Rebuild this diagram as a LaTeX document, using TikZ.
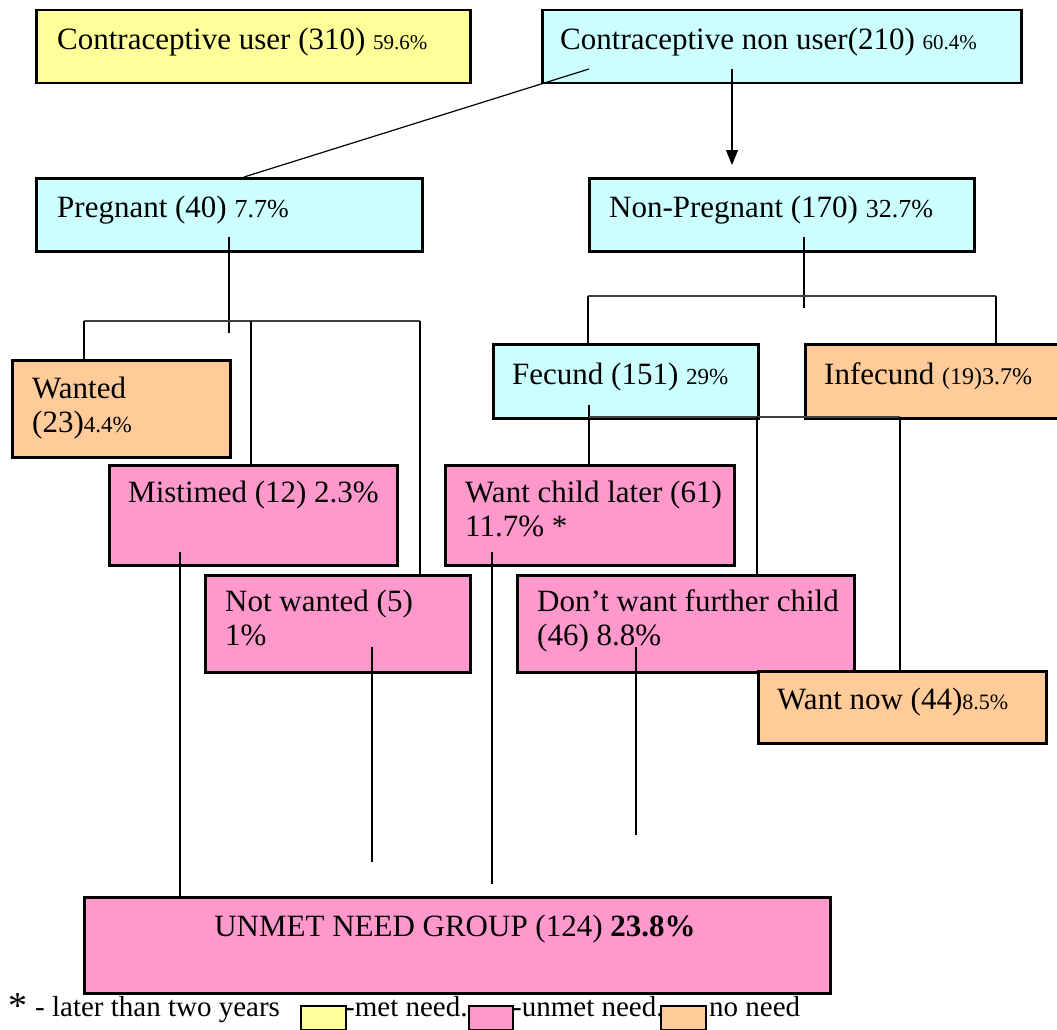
\documentclass[tikz,border=0pt]{standalone}
\usepackage{fontspec}
\setmainfont{Liberation Serif}
\usetikzlibrary{arrows.meta}

\definecolor{metyellow}{HTML}{FFFF99}
\definecolor{usercyan}{HTML}{CCFFFF}
\definecolor{unmetpink}{HTML}{FF99CC}
\definecolor{noneed}{HTML}{FFCC99}

\newcommand{\pct}[2]{{\fontsize{#1}{#1}\selectfont #2}}

\begin{document}
\begin{tikzpicture}[x=1pt, y=-1pt,
    box/.style={draw, line width=2.5pt, anchor=north west, inner sep=0pt},
    txt/.style={anchor=base west, inner sep=0pt, align=left, font=\fontsize{31}{34}\selectfont},
    link/.style={line width=1.2pt},
    bus/.style={line width=1.8pt, black!75}]
    \useasboundingbox (0,0) rectangle (1057,1030);
    \clip (0,0) rectangle (1057,1030);

    % Boxes
    \node (user) at (35,9) [box, fill=metyellow, minimum width=434pt, minimum height=73pt] {};
    \node (nonuser) at (541,9) [box, fill=usercyan, minimum width=479pt, minimum height=73pt] {};
    \node (preg) at (35,177) [box, fill=usercyan, minimum width=386pt, minimum height=73pt] {};
    \node (nonpreg) at (588,177) [box, fill=usercyan, minimum width=385pt, minimum height=73pt] {};
    \node (wanted) at (11,359) [box, fill=noneed, minimum width=218pt, minimum height=97pt] {};
    \node (mistimed) at (108,464) [box, fill=unmetpink, minimum width=288pt, minimum height=100pt] {};
    \node (notwanted) at (204,574) [box, fill=unmetpink, minimum width=265pt, minimum height=97pt] {};
    \node (fecund) at (492,343) [box, fill=usercyan, minimum width=265pt, minimum height=74pt] {};
    \node (infecund) at (804,343) [box, fill=noneed, minimum width=270pt, minimum height=74pt] {};
    \node (later) at (444,464) [box, fill=unmetpink, minimum width=289pt, minimum height=100pt] {};
    \node (nofurther) at (516,574) [box, fill=unmetpink, minimum width=337pt, minimum height=97pt] {};
    \node (wantnow) at (757,670) [box, fill=noneed, minimum width=288pt, minimum height=72pt] {};
    \node (unmet) at (83,896) [box, fill=unmetpink, minimum width=746pt, minimum height=96pt] {};

    % Texts (two-line texts sit on their last baseline)
    \node (user-t) at (57,50) [txt] {Contraceptive user (310) \pct{21}{59.6\%}};
    \node (nonuser-t) at (560,50) [txt] {Contraceptive non user(210) \pct{21}{60.4\%}};
    \node (preg-t) at (57,217) [txt] {Pregnant (40) \pct{26}{7.7\%}};
    \node (nonpreg-t) at (609,217) [txt] {Non-Pregnant (170) \pct{26}{32.7\%}};
    \node (wanted-t) at (32,432) [txt] {Wanted\\(23)\pct{23}{4.4\%}};
    \node (mistimed-t) at (128,502) [txt] {Mistimed (12) 2.3\%};
    \node (notwanted-t) at (225,645) [txt] {Not wanted (5)\\1\%};
    \node (fecund-t) at (512,384) [txt] {Fecund (151) \pct{23}{29\%}};
    \node (infecund-t) at (824,384) [txt] {Infecund \pct{24}{(19)3.7\%}};
    \node (later-t) at (465,536) [txt] {Want child later (61)\\11.7\% *};
    \node (nofurther-t) at (537,645) [txt] {Don’t want further child\\(46) 8.8\%};
    \node (wantnow-t) at (777,709) [txt] {Want now (44)\pct{22}{8.5\%}};
    \node (unmet-t) at (455,936) [txt, anchor=base] {UNMET NEED GROUP (124) \textbf{23.8\%}};

    % Connectors
    \coordinate (nu-a) at (589,69);
    \coordinate (pr-a) at (244,177);
    \coordinate (nu-b) at (732,69);
    \coordinate (np-tip) at (732,165);
    \draw[link] (nu-a) -- (pr-a);
    \draw[link, -{Triangle[width=12pt, length=15pt]}] (nu-b) -- (np-tip);

    \coordinate (pr-s) at (229,237);
    \coordinate (pr-e) at (229,333);
    \coordinate (pb-l) at (84,321);
    \coordinate (pb-m) at (251,321);
    \coordinate (pb-r) at (420,321);
    \draw[link] (pr-s) -- (pr-e);
    \draw[bus] (pb-l) -- (pb-r);
    \draw[link] (pb-l) -- (pb-l |- wanted.north);
    \draw[link] (pb-m) -- (pb-m |- mistimed.north);
    \draw[link] (pb-r) -- (pb-r |- notwanted.north);

    \coordinate (np-s) at (804,237);
    \coordinate (np-e) at (804,308);
    \coordinate (nb-l) at (588,296);
    \coordinate (nb-r) at (996,296);
    \draw[link] (np-s) -- (np-e);
    \draw[bus] (nb-l) -- (nb-r);
    \draw[link] (nb-l) -- (nb-l |- fecund.north);
    \draw[link] (nb-r) -- (nb-r |- infecund.north);

    \coordinate (fe-s) at (589,405);
    \coordinate (fb-l) at (589,417);
    \coordinate (fb-m) at (757,417);
    \coordinate (fb-r) at (900,417);
    \draw[link] (fe-s) -- (fe-s |- later.north);
    \draw[bus] (fb-l) -- (fb-r);
    \draw[link] (fb-m) -- (fb-m |- nofurther.north);
    \draw[link] (fb-r) -- (fb-r |- wantnow.north);

    \coordinate (mi-s) at (180,552);
    \coordinate (nw-s) at (372,647);
    \coordinate (nw-e) at (372,862);
    \coordinate (la-s) at (492,552);
    \coordinate (la-e) at (492,884);
    \coordinate (nf-s) at (636,647);
    \coordinate (nf-e) at (636,835);
    \draw[link] (mi-s) -- (mi-s |- unmet.north);
    \draw[link] (nw-s) -- (nw-e);
    \draw[link] (la-s) -- (la-e);
    \draw[link] (nf-s) -- (nf-e);

    % Legend
    \node (star-t) at (8,1018) [txt, font=\fontsize{38}{38}\selectfont] {*};
    \node (years-t) at (35,1016) [txt, font=\fontsize{29}{32}\selectfont] {- later than two years};
    \node (keymet) at (300,1005) [box, line width=1.6pt, fill=metyellow, minimum width=45pt, minimum height=24pt] {};
    \node (keymet-t) at (345,1016) [txt, font=\fontsize{29}{32}\selectfont] {-met need.};
    \node (keyunmet) at (468,1005) [box, line width=1.6pt, fill=unmetpink, minimum width=44pt, minimum height=24pt] {};
    \node (keyunmet-t) at (512,1016) [txt, font=\fontsize{29}{32}\selectfont] {-unmet need.};
    \node (keynone) at (660,1005) [box, line width=1.6pt, fill=noneed, minimum width=45pt, minimum height=24pt] {};
    \node (keynone-t) at (709,1016) [txt, font=\fontsize{29}{32}\selectfont] {no need};
\end{tikzpicture}
\end{document}
